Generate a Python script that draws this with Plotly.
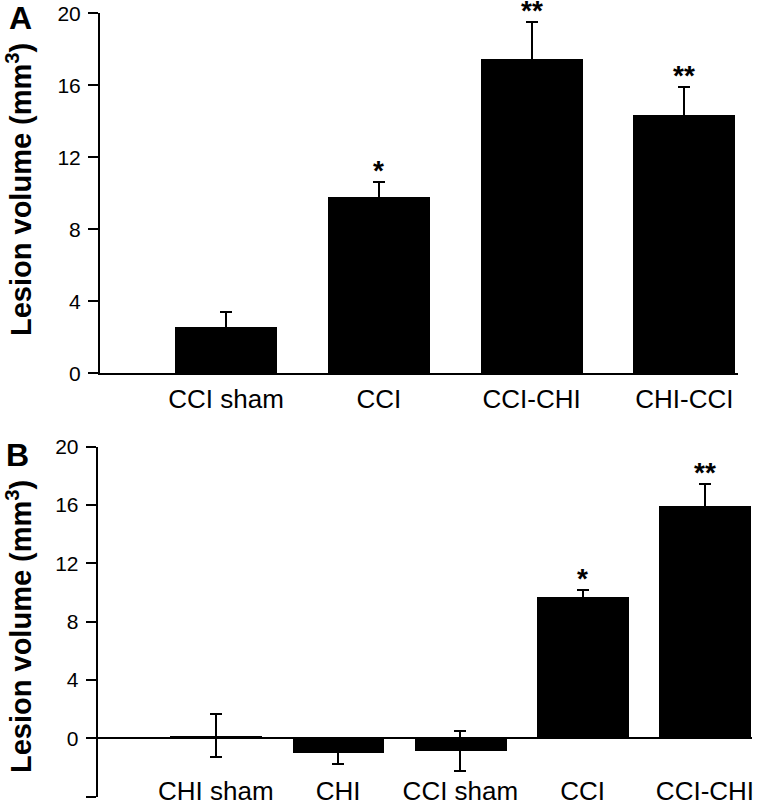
import plotly.graph_objects as go

# ---- data ----
cats_a = ["CCI sham", "CCI", "CCI-CHI", "CHI-CCI"]
vals_a = [2.56, 9.78, 17.47, 14.32]
err_a = [0.83, 0.83, 2.07, 1.61]
sig_a = ["", "*", "**", "**"]

cats_b = ["CHI sham", "CHI", "CCI sham", "CCI", "CCI-CHI"]
vals_b = [0.2, -0.99, -0.85, 9.71, 15.93]
err_b = [1.5, 0.8, 1.37, 0.46, 1.49]
sig_b = ["", "", "", "*", "**"]

yticks_a = [0, 4, 8, 12, 16, 20]
yticks_b = [-4, 0, 4, 8, 12, 16, 20]

FONT = "Liberation Sans, Arial, sans-serif"
W, H = 760, 807


def fx(px):
    return min(max(px / W, 0), 1)


def fy(py):
    return min(max(1 - py / H, 0), 1)


fig = go.Figure()
fig.add_trace(go.Bar(
    x=cats_a, y=vals_a, width=0.668,
    marker=dict(color="black", line=dict(width=0)),
    error_y=dict(type="data", array=err_a, color="black", thickness=2, width=6),
    xaxis="x", yaxis="y", showlegend=False))
fig.add_trace(go.Bar(
    x=cats_b, y=vals_b, width=0.75,
    marker=dict(color="black", line=dict(width=0)),
    error_y=dict(type="data", array=err_b, color="black", thickness=2, width=6),
    xaxis="x2", yaxis="y2", showlegend=False))

ann = []
star_font = dict(family=FONT, size=28, color="black", weight="bold")
for c, v, e, s in zip(cats_a, vals_a, err_a, sig_a):
    if s:
        ann.append(dict(x=c, y=v + e, xref="x", yref="y", text=s, showarrow=False,
                        yanchor="bottom", yshift=-6, font=star_font))
for c, v, e, s in zip(cats_b, vals_b, err_b, sig_b):
    if s:
        ann.append(dict(x=c, y=v + e, xref="x2", yref="y2", text=s, showarrow=False,
                        yanchor="bottom", yshift=-6, font=star_font))

title_font = dict(family=FONT, size=29, color="black", weight="bold")
ann.append(dict(x=fx(19), y=fy(190), xref="paper", yref="paper",
                text="Lesion volume (mm<sup>3</sup>)", textangle=-90, showarrow=False,
                xanchor="center", yanchor="middle", font=title_font))
ann.append(dict(x=fx(19), y=fy(627), xref="paper", yref="paper",
                text="Lesion volume (mm<sup>3</sup>)", textangle=-90, showarrow=False,
                xanchor="center", yanchor="middle", font=title_font))
panel_font = dict(family=FONT, size=32, color="black", weight="bold")
ann.append(dict(x=fx(20), y=fy(18), xref="paper", yref="paper", text="A",
                showarrow=False, xanchor="center", yanchor="middle", font=panel_font))
ann.append(dict(x=fx(17), y=fy(455), xref="paper", yref="paper", text="B",
                showarrow=False, xanchor="center", yanchor="middle", font=panel_font))

tick_font = dict(family=FONT, size=21, color="black")
cat_font = dict(family=FONT, size=26, color="black")

fig.update_layout(
    width=W, height=H,
    margin=dict(l=0, r=0, t=0, b=0, pad=0),
    paper_bgcolor="white", plot_bgcolor="white",
    bargap=0,
    annotations=ann,
    xaxis=dict(domain=[fx(100), fx(738.3)], range=[-0.825, 3.353], type="category",
               showline=True, linecolor="black", linewidth=2, ticks="",
               showgrid=False, tickfont=cat_font, ticklabelstandoff=1,
               anchor="y", fixedrange=True, automargin=False),
    yaxis=dict(domain=[fy(373.3), fy(13.3)], range=[0, 20],
               tickvals=yticks_a, showline=True, linecolor="black", linewidth=2,
               ticks="outside", ticklen=10, tickwidth=2, tickcolor="black",
               showgrid=False, zeroline=False, tickfont=tick_font,
               ticklabelstandoff=3, anchor="x", automargin=False, fixedrange=True),
    xaxis2=dict(domain=[fx(97.7), fx(752.3)], range=[-0.966, 4.387], type="category",
                showline=False, ticks="", showgrid=False, tickfont=cat_font,
                anchor="free", position=fy(773), fixedrange=True, automargin=False),
    yaxis2=dict(domain=[fy(796.7), fy(446.7)], range=[-4, 20],
                tickvals=yticks_b, showline=True, linecolor="black", linewidth=2,
                ticks="outside", ticklen=10, tickwidth=2, tickcolor="black",
                showgrid=False, zeroline=True, zerolinecolor="black", zerolinewidth=2,
                tickfont=tick_font, ticklabelstandoff=3, anchor="x2", automargin=False,
                fixedrange=True),
)

fig.write_html("out.html", config={"displayModeBar": False},
               post_script="document.body.style.margin='0px';")
